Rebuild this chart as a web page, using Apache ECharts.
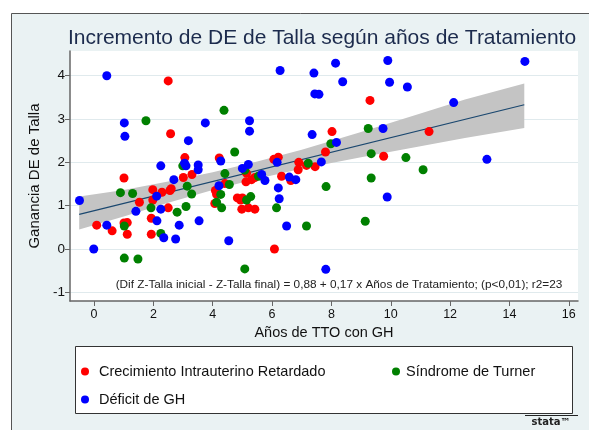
<!DOCTYPE html>
<html>
<head>
<meta charset="utf-8">
<script src="https://cdn.jsdelivr.net/npm/echarts@6/dist/echarts.min.js"></script>
<style>
  html, body { margin: 0; padding: 0; background: #fff; }
  #chart { width: 589px; height: 430px; }
</style>
</head>
<body>
<div id="chart"></div>
<script>
var chart = echarts.init(document.getElementById('chart'));

// Crecimiento Intrauterino Retardado
var cirPoints = [
  [2.5, 3.88], [2.58, 2.66], [3.06, 2.11], [1.01, 1.64], [3.01, 1.65], [3.30, 1.72],
  [1.98, 1.37], [2.29, 1.31], [2.56, 1.35], [2.60, 1.39], [1.53, 1.08], [1.98, 1.13],
  [2.50, 0.95], [0.09, 0.55], [0.61, 0.42], [1.01, 0.60], [1.12, 0.61], [1.12, 0.34],
  [1.93, 0.71], [1.93, 0.34], [4.22, 2.10], [6.06, 2.07], [6.21, 2.12], [6.90, 2.00],
  [6.88, 1.83], [7.16, 1.93], [5.14, 1.75], [6.32, 1.68], [4.09, 1.35], [4.13, 1.26],
  [4.07, 1.05], [4.41, 1.51], [4.83, 1.18], [4.94, 1.13], [5.00, 1.18], [4.98, 0.92],
  [5.20, 0.95], [5.42, 0.92], [5.12, 1.55], [5.31, 1.60], [5.42, 1.65], [6.63, 1.58],
  [6.08, 0.00], [9.30, 3.43], [8.02, 2.71], [7.80, 2.24], [11.29, 2.71], [9.76, 2.14],
  [7.45, 1.90]
];
// Síndrome de Turner
var turnerPoints = [
  [1.75, 2.96], [2.99, 1.92], [0.89, 1.30], [1.30, 1.28], [3.14, 1.45], [3.29, 1.27],
  [1.92, 0.95], [3.10, 0.98], [2.80, 0.85], [1.02, 0.53], [2.25, 0.36], [1.02, -0.21],
  [1.48, -0.23], [4.38, 3.20], [4.74, 2.24], [7.22, 1.98], [5.08, 1.82], [4.41, 1.74],
  [4.27, 1.26], [4.13, 1.08], [4.30, 0.95], [4.56, 1.49], [5.14, 1.13], [5.28, 1.21],
  [5.54, 1.68], [6.15, 0.95], [7.16, 0.53], [5.08, -0.46], [9.24, 2.78], [7.98, 2.43],
  [9.34, 2.20], [10.51, 2.11], [11.09, 1.83], [9.34, 1.64], [7.82, 1.44], [9.14, 0.64]
];
// Déficit de GH
var ghPoints = [
  [0.43, 4.00], [1.02, 2.91], [1.04, 2.60], [3.18, 2.50], [2.25, 1.92], [3.10, 1.92],
  [3.05, 1.98], [2.69, 1.60], [-0.49, 1.12], [2.11, 1.22], [1.41, 0.87], [2.25, 0.92],
  [0.43, 0.55], [2.12, 0.65], [2.35, 0.26], [2.87, 0.55], [2.75, 0.23], [-0.01, 0.00],
  [6.27, 4.12], [3.75, 2.91], [5.24, 2.96], [5.24, 2.72], [7.35, 2.64], [4.27, 2.03],
  [6.17, 2.00], [3.51, 1.94], [3.51, 1.83], [5.00, 1.86], [5.20, 1.95], [5.65, 1.72],
  [5.76, 1.58], [6.58, 1.66], [6.80, 1.60], [3.54, 0.65], [4.21, 1.46], [6.21, 1.41],
  [6.24, 1.16], [6.49, 0.53], [4.54, 0.19], [8.14, 4.29], [9.90, 4.35], [7.41, 4.06],
  [8.38, 3.86], [9.96, 3.85], [10.56, 3.74], [7.44, 3.58], [7.58, 3.57], [9.74, 2.78],
  [8.17, 2.46], [7.66, 2.01], [9.88, 1.20], [7.81, -0.47], [14.52, 4.33], [12.12, 3.38],
  [13.24, 2.07]
];

// recta ajustada y banda de confianza
var fitLine = [[-0.5, 0.80], [14.5, 3.33]];
var bandX  = [-0.5, 1, 2.5, 4, 5.5, 7, 9, 11, 12.5, 14.5];
var bandLo = [0.45, 0.75, 1.07, 1.36, 1.62, 1.85, 2.12, 2.37, 2.56, 2.79];
var bandHi = [1.21, 1.36, 1.56, 1.77, 2.02, 2.29, 2.70, 3.13, 3.45, 3.82];

var xTicks = [0, 2, 4, 6, 8, 10, 12, 14, 16];
var yTicks = [-1, 0, 1, 2, 3, 4];

var FONT = '"Liberation Sans", Arial, sans-serif';
var names = ['Crecimiento Intrauterino Retardado', 'Síndrome de Turner', 'Déficit de GH'];

function legendAt(name, left, top, w) {
  return {
    data: [name], left: left, top: top, padding: 0,
    icon: 'circle', itemWidth: w, itemHeight: 8, selectedMode: false,
    textStyle: { fontFamily: FONT, fontSize: 14.5, color: '#111' }
  };
}

var option = {
  backgroundColor: '#eaf2f3',
  animation: false,
  textStyle: { fontFamily: FONT },
  grid: {
    left: 70, top: 51, right: 11, bottom: 129,
    show: true, backgroundColor: '#ffffff', borderWidth: 0
  },
  xAxis: {
    type: 'value', min: -0.81, max: 16.31,
    name: 'Años de TTO con GH', nameLocation: 'middle', nameGap: 22,
    nameTextStyle: { fontFamily: FONT, fontSize: 14.5, color: '#111' },
    axisLine: { show: true, onZero: false, lineStyle: { color: '#666', width: 1.5 } },
    axisTick: { show: true, length: 5, customValues: xTicks, lineStyle: { color: '#666' } },
    axisLabel: { customValues: xTicks, fontSize: 12.5, color: '#111', margin: 7 },
    splitLine: { show: false }
  },
  yAxis: {
    type: 'value', min: -1.2, max: 4.57,
    name: 'Ganancia DE de Talla', nameLocation: 'middle', nameRotate: 90, nameGap: 26,
    nameTextStyle: { fontFamily: FONT, fontSize: 15, color: '#111' },
    axisLine: { show: true, onZero: false, lineStyle: { color: '#666', width: 1.5 } },
    axisTick: { show: true, length: 5, customValues: yTicks, lineStyle: { color: '#666' } },
    axisLabel: { customValues: yTicks, fontSize: 13.5, color: '#111', margin: 5 },
    splitLine: { show: true, lineStyle: { color: '#e0eaed', width: 1 } }
  },
  legend: [
    legendAt(names[0], 81, 364, 18),
    legendAt(names[1], 392, 364, 10),
    legendAt(names[2], 81, 392, 18)
  ],
  graphic: [
    { type: 'rect', shape: { x: 0, y: 0, width: 589, height: 13 }, style: { fill: '#fff' }, silent: true },
    { type: 'rect', shape: { x: 0, y: 0, width: 11, height: 430 }, style: { fill: '#fff' }, silent: true },
    { type: 'polyline', shape: { points: [[11.5, 430], [11.5, 13.5], [589, 13.5]] },
      style: { stroke: '#555', lineWidth: 1, fill: null }, silent: true },
    { type: 'text', x: 322, y: 38,
      style: { text: 'Incremento de DE de Talla según años de Tratamiento', fontFamily: FONT,
               fontSize: 21, fill: '#1c2b4d', align: 'center', verticalAlign: 'middle' } },
    { type: 'text', x: 339, y: 285,
      style: { text: '(Dif Z-Talla inicial - Z-Talla final) = 0,88 + 0,17 x Años de Tratamiento; (p<0,01); r2=23',
               fontFamily: FONT, fontSize: 11.8, fill: '#222', align: 'center', verticalAlign: 'middle' }, z: 10 },
    { type: 'rect', shape: { x: 75.5, y: 346.5, width: 497, height: 67 },
      style: { fill: '#fff', stroke: '#333', lineWidth: 1 }, silent: true },
    { type: 'line', shape: { x1: 525, y1: 415.5, x2: 578, y2: 415.5 },
      style: { stroke: '#222', lineWidth: 1 }, silent: true },
    { type: 'text', x: 551, y: 422,
      style: { text: 'stata™', fontFamily: '"DejaVu Sans"', fontSize: 10, fontWeight: 'bold',
               fill: '#222', align: 'center', verticalAlign: 'middle' } }
  ],
  series: [
    {
      name: 'IC', type: 'custom', silent: true, z: 1,
      data: bandX.map(function (x, i) { return [x, bandLo[i], bandHi[i]]; }),
      encode: { x: 0, y: [1, 2] },
      renderItem: function (params, api) {
        if (params.dataIndex !== 0) return;
        var pts = [], i;
        for (i = 0; i < bandX.length; i++) pts.push(api.coord([bandX[i], bandHi[i]]));
        for (i = bandX.length - 1; i >= 0; i--) pts.push(api.coord([bandX[i], bandLo[i]]));
        return { type: 'polygon', shape: { points: pts }, style: { fill: '#c4c4c4' } };
      }
    },
    {
      name: 'Ajuste', type: 'line', data: fitLine, symbol: 'none', silent: true, z: 1,
      lineStyle: { color: '#1a476f', width: 1.2 }
    },
    {
      name: names[0], type: 'scatter', data: cirPoints, symbolSize: 9,
      itemStyle: { color: '#ff0000', opacity: 1 }, z: 3
    },
    {
      name: names[1], type: 'scatter', data: turnerPoints, symbolSize: 9,
      itemStyle: { color: '#008000', opacity: 1 }, z: 3
    },
    {
      name: names[2], type: 'scatter', data: ghPoints, symbolSize: 9,
      itemStyle: { color: '#0000ff', opacity: 1 }, z: 3
    }
  ]
};

chart.setOption(option);
</script>
</body>
</html>
